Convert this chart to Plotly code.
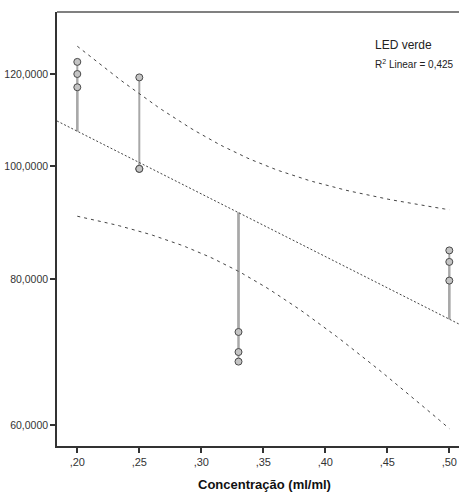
import numpy as np
import plotly.graph_objects as go

# ---- data ----
conc = [0.20, 0.20, 0.20, 0.25, 0.25, 0.25, 0.33, 0.33, 0.33, 0.50, 0.50, 0.50]
value = [122.9, 120.0, 116.9, 119.2, 99.5, 99.5, 72.1, 69.3, 68.0, 84.7, 82.8, 79.8]
y_tickvals = [60, 80, 100, 120]
y_ticktext = ["60,0000", "80,0000", "100,0000", "120,0000"]
x_tickvals = [0.20, 0.25, 0.30, 0.35, 0.40, 0.45, 0.50]
x_ticktext = [",20", ",25", ",30", ",35", ",40", ",45", ",50"]
legend_title = "LED verde"
r2_text = "R<sup>2</sup> Linear = 0,425"
x_title = "Concentração (ml/ml)"

# ---- linear fit on the (log-scaled) axis, with 95% mean confidence band ----
x = np.array(conc)
ly = np.log10(np.array(value))
n = len(x)
xm, ym = x.mean(), ly.mean()
sxx = ((x - xm) ** 2).sum()
b = ((x - xm) * (ly - ym)).sum() / sxx
a = ym - b * xm
resid = ly - (a + b * x)
s = np.sqrt((resid ** 2).sum() / (n - 2))
t_crit = 2.228  # t(0.975, df=10)

x_range = [0.18363, 0.50782]
fit_x = np.array(x_range)
fit_y = 10 ** (a + b * fit_x)

band_x = np.linspace(min(conc), max(conc), 80)
half = t_crit * s * np.sqrt(1 / n + (band_x - xm) ** 2 / sxx)
band_up = 10 ** (a + b * band_x + half)
band_lo = 10 ** (a + b * band_x - half)

# residual drop lines
rx, ry = [], []
for xi, yi in zip(conc, value):
    rx += [xi, xi, None]
    ry += [yi, 10 ** (a + b * xi), None]

fig = go.Figure()
fig.add_trace(go.Scatter(x=rx, y=ry, mode="lines",
                         line=dict(color="#a8a8a8", width=2), hoverinfo="skip"))
fig.add_trace(go.Scatter(x=fit_x, y=fit_y, mode="lines",
                         line=dict(color="#444444", width=1, dash="2px,2px")))
fig.add_trace(go.Scatter(x=band_x, y=band_up, mode="lines",
                         line=dict(color="#444444", width=1, dash="3px,4px")))
fig.add_trace(go.Scatter(x=band_x, y=band_lo, mode="lines",
                         line=dict(color="#444444", width=1, dash="3px,4px")))
fig.add_trace(go.Scatter(x=conc, y=value, mode="markers",
                         marker=dict(symbol="circle", size=7, color="#c4c4c4",
                                     line=dict(color="#4a4a4a", width=1))))

font_family = "Liberation Sans, Arial, sans-serif"
fig.update_layout(
    width=459, height=494,
    margin=dict(l=57, r=0, t=12, b=48),
    plot_bgcolor="white", paper_bgcolor="white",
    showlegend=False,
    font=dict(family=font_family, color="#333333"),
    xaxis=dict(range=x_range, tickvals=x_tickvals, ticktext=x_ticktext,
               showgrid=False, zeroline=False, showline=True,
               linecolor="#333333", linewidth=1.5, ticks="outside",
               ticklen=5, tickwidth=1.5, tickcolor="#333333",
               tickfont=dict(size=11, color="#333333")),
    yaxis=dict(type="log", range=[1.76014, 2.13235], tickvals=y_tickvals,
               ticktext=y_ticktext, showgrid=False, zeroline=False,
               showline=True, linecolor="#333333", linewidth=1.5,
               ticks="outside", ticklen=5, tickwidth=1.5, tickcolor="#333333",
               tickfont=dict(size=10.5, color="#333333")),
    shapes=[dict(type="line", xref="paper", yref="paper", x0=0, x1=1, y0=1, y1=1,
                 line=dict(color="#808080", width=2))],
    annotations=[
        dict(text=x_title, xref="paper", yref="paper", x=0.515, y=-0.0876,
             xanchor="center", yanchor="middle", showarrow=False,
             font=dict(size=13, color="#111111", family=font_family, weight="bold")),
        dict(text=legend_title, xref="paper", yref="paper", x=(373 - 57) / 402,
             y=(446 - 45) / 434, xanchor="left", yanchor="middle", showarrow=False,
             font=dict(size=12, color="#222222")),
        dict(text=r2_text, xref="paper", yref="paper", x=(373 - 57) / 402,
             y=(446 - 64) / 434, xanchor="left", yanchor="middle", showarrow=False,
             font=dict(size=10, color="#222222")),
    ],
)

fig.write_html("out.html")
